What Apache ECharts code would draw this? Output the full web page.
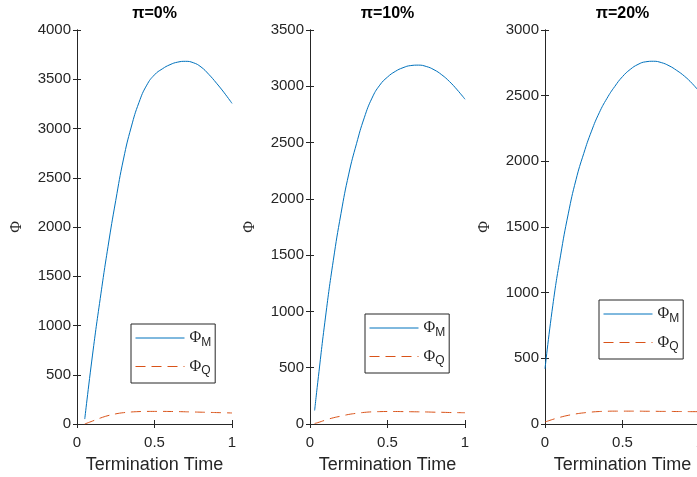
<!DOCTYPE html>
<html><head><meta charset="utf-8">
<script src="https://cdn.jsdelivr.net/npm/echarts@6/dist/echarts.min.js"></script>
<style>html,body{margin:0;padding:0;background:#fff}#c{width:697px;height:477px}</style>
</head><body><div id="c"></div>
<script>
// ---- data ----
const panelTitles = ['π=0%', 'π=10%', 'π=20%'];
const xTickLabels = ['0', '0.5', '1'];
const yMaxes = [4000, 3500, 3000];
const seriesNames = ['Φ_M', 'Φ_Q'];

const time0 = [0.05,0.1,0.15,0.2,0.25,0.3,0.35,0.4,0.45,0.5,0.55,0.6,0.65,0.7,0.75,0.8,0.85,0.9,0.95,1.0];
const phiM0 = [50,700,1275,1800,2270,2690,3015,3265,3440,3545,3605,3648,3674,3682,3668,3625,3550,3460,3362,3255];
const phiQ0 = [0,30,60,85,103,115,122,126,128,128,128,127,126,124,122,120,118,116,114,112];

const time10 = [0.03,0.05,0.1,0.15,0.2,0.25,0.3,0.35,0.4,0.45,0.5,0.55,0.6,0.65,0.7,0.75,0.8,0.85,0.9,0.95,1.0];
const phiM10 = [120,370,950,1450,1870,2220,2490,2720,2895,3010,3082,3132,3165,3184,3188,3176,3147,3102,3042,2968,2885];
const phiQ10 = [5,12,35,55,70,85,95,103,108,110,111,111,110,109,108,107,105,104,102,101,100];

const time20 = [0,0.05,0.1,0.15,0.2,0.25,0.3,0.35,0.4,0.45,0.5,0.55,0.6,0.65,0.7,0.75,0.8,0.85,0.9,0.95,1.0];
const phiM20 = [420,900,1280,1600,1860,2060,2230,2370,2480,2570,2645,2700,2738,2758,2762,2752,2728,2692,2648,2592,2525];
const phiQ20 = [15,35,52,66,77,85,91,95,97,98,98,98,98,97,97,96,96,95,95,94,94];

const panels = [
  {t: time0, m: phiM0, q: phiQ0},
  {t: time10, m: phiM10, q: phiQ10},
  {t: time20, m: phiM20, q: phiQ20}
];

// ---- layout / style ----
const gridPos = [{left: 77, right: 465}, {left: 310, right: 232}, {left: 545, right: -3}];
const legendPos = [{left: 131, top: 324}, {left: 365, top: 314}, {left: 599, top: 300}];
const axisColor = '#262626';
const colM = '#0072BD', colQ = '#D95319';
const dashQ = [10, 6];
const sans = 'Liberation Sans, Arial, Helvetica, sans-serif';
const serif = 'Liberation Serif, DejaVu Serif, serif';
const zip = (a, b) => a.map((v, i) => [v, b[i]]);

const grid = [], xAxis = [], yAxis = [], series = [], title = [], legend = [];
const lineCommon = {show: true, lineStyle: {color: axisColor, width: 1}};
const tickCommon = {show: true, inside: true, length: 4, lineStyle: {color: axisColor, width: 1}};

panels.forEach((p, i) => {
  const g = gridPos[i];
  grid.push({left: g.left, right: g.right, top: 30, bottom: 53, containLabel: false, outerBoundsMode: 'none'});
  const cx = g.left + (697 - g.left - g.right) / 2;
  title.push({text: panelTitles[i], left: cx, top: 6, textAlign: 'center', padding: 0,
    textStyle: {fontSize: 16, fontWeight: 'bold', color: '#000', fontFamily: sans}});
  xAxis.push({type: 'value', gridIndex: i, position: 'bottom', min: 0, max: 1, interval: 0.5,
    axisLine: lineCommon, axisTick: tickCommon, splitLine: {show: false},
    axisLabel: {margin: 11, fontSize: 15, color: axisColor, fontFamily: sans,
      formatter: v => xTickLabels[Math.round(v * 2)]},
    name: 'Termination Time', nameLocation: 'middle', nameGap: 32,
    nameTextStyle: {fontSize: 18, color: axisColor, fontFamily: sans}});
  xAxis.push({type: 'value', gridIndex: i, position: 'top', min: 0, max: 1, interval: 0.5,
    axisLine: lineCommon, axisTick: tickCommon, splitLine: {show: false}, axisLabel: {show: false}});
  yAxis.push({type: 'value', gridIndex: i, position: 'left', min: 0, max: yMaxes[i], interval: 500,
    axisLine: lineCommon, axisTick: tickCommon, splitLine: {show: false},
    axisLabel: {margin: 6, fontSize: 15, color: axisColor, fontFamily: sans, formatter: v => String(v)},
    name: 'Φ', nameLocation: 'middle', nameGap: 52, nameRotate: 90,
    nameTextStyle: {fontSize: 16, color: axisColor, fontFamily: serif}});
  yAxis.push({type: 'value', gridIndex: i, position: 'right', min: 0, max: yMaxes[i], interval: 500,
    axisLine: lineCommon, axisTick: tickCommon, splitLine: {show: false}, axisLabel: {show: false}});
  series.push({type: 'line', name: seriesNames[0], xAxisIndex: 2 * i, yAxisIndex: 2 * i,
    data: zip(p.t, p.m), smooth: true, symbol: 'none', showSymbol: false,
    lineStyle: {color: colM, width: 1}, itemStyle: {color: colM}});
  series.push({type: 'line', name: seriesNames[1], xAxisIndex: 2 * i, yAxisIndex: 2 * i,
    data: zip(p.t, p.q), smooth: true, symbol: 'none', showSymbol: false,
    lineStyle: {color: colQ, width: 1, type: dashQ}, itemStyle: {color: colQ}});
  legend.push({
    data: [
      {name: seriesNames[0], lineStyle: {color: colM, width: 1, type: 'solid'}},
      {name: seriesNames[1], lineStyle: {color: colQ, width: 1, type: dashQ}}
    ],
    orient: 'vertical', left: legendPos[i].left, top: legendPos[i].top,
    padding: [6, 4, 6, 4], itemGap: 10, itemWidth: 49, itemHeight: 14,
    borderColor: axisColor, borderWidth: 1, backgroundColor: '#fff', selectedMode: false,
    itemStyle: {opacity: 0},
    lineStyle: {width: 1},
    formatter: n => '{p|Φ}{s|' + n.split('_')[1] + '}',
    textStyle: {rich: {
      p: {fontFamily: serif, fontSize: 16, color: axisColor},
      s: {fontFamily: sans, fontSize: 12, color: axisColor, padding: [9, 0, 0, 0]}
    }}});
});

const chart = echarts.init(document.getElementById('c'), null, {renderer: 'canvas'});
chart.setOption({animation: false, backgroundColor: '#fff', title, grid, xAxis, yAxis, series, legend});
</script>
</body></html>
